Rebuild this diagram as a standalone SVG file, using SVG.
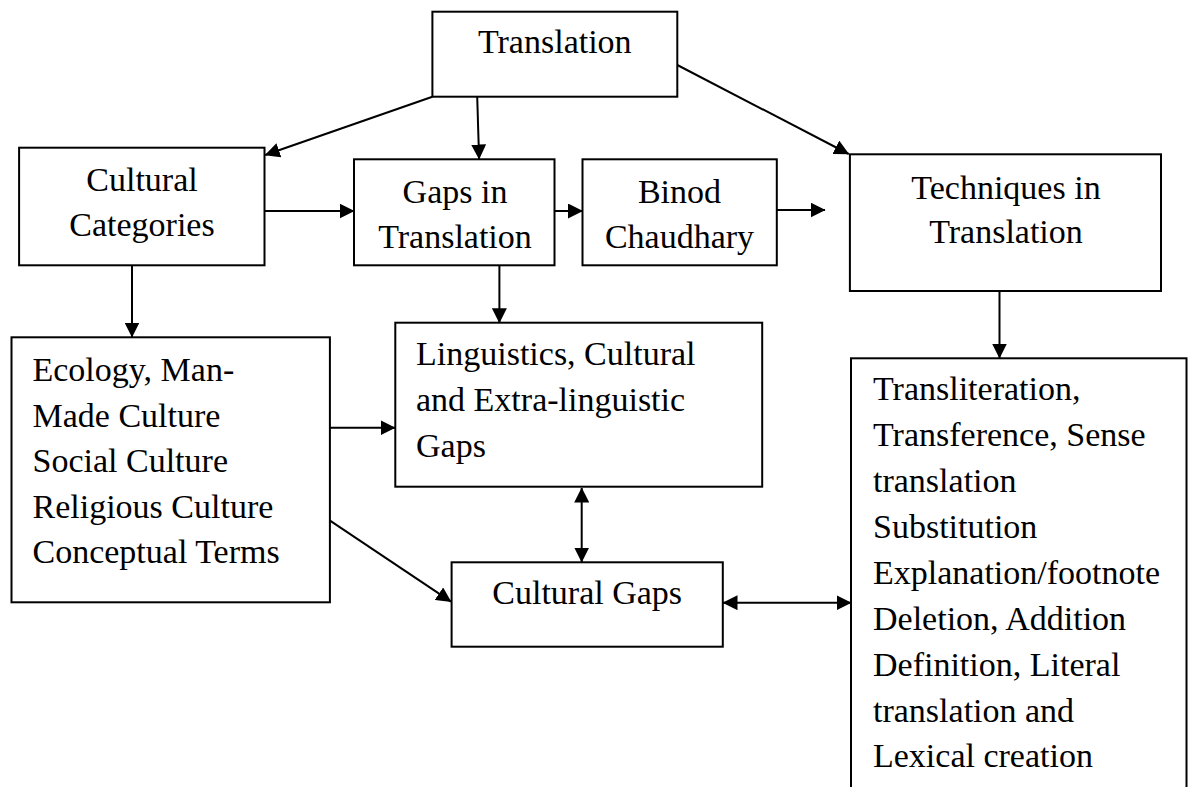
<svg xmlns="http://www.w3.org/2000/svg" width="1194" height="787" viewBox="0 0 1194 787">
<style>
  .box { fill: #ffffff; stroke: #000000; stroke-width: 2; }
  .t { font-family: "Liberation Serif", "Times New Roman", serif; font-size: 34px; fill: #000000; }
  .c { text-anchor: middle; }
  .line { fill: none; stroke: #000000; stroke-width: 2; }
</style>
<defs>
  <marker id="ah" markerUnits="userSpaceOnUse" markerWidth="16" markerHeight="15" refX="14.5" refY="7.5" orient="auto-start-reverse">
    <path d="M0,0 L15,7.5 L0,15 z" fill="#000000"/>
  </marker>
</defs>
<rect x="0" y="0" width="1194" height="787" fill="#ffffff"/>

<g id="connectors">
  <line class="line" x1="432.4" y1="96.7" x2="265.2" y2="155" marker-end="url(#ah)"/>
  <line class="line" x1="477.2" y1="96.7" x2="479.1" y2="159" marker-end="url(#ah)"/>
  <line class="line" x1="677.3" y1="65" x2="848.7" y2="154" marker-end="url(#ah)"/>
  <line class="line" x1="264.5" y1="211" x2="354" y2="211" marker-end="url(#ah)"/>
  <line class="line" x1="554.5" y1="211" x2="582.5" y2="211" marker-end="url(#ah)"/>
  <line class="line" x1="776.8" y1="210" x2="825" y2="210" marker-end="url(#ah)"/>
  <line class="line" x1="132" y1="265.3" x2="132" y2="337" marker-end="url(#ah)"/>
  <line class="line" x1="499.4" y1="265.3" x2="499.4" y2="322.7" marker-end="url(#ah)"/>
  <line class="line" x1="999.5" y1="291" x2="999.5" y2="358" marker-end="url(#ah)"/>
  <line class="line" x1="330" y1="427.7" x2="395" y2="427.7" marker-end="url(#ah)"/>
  <line class="line" x1="330" y1="520.7" x2="451" y2="601.7" marker-end="url(#ah)"/>
  <line class="line" x1="581.7" y1="488" x2="581.7" y2="562" marker-start="url(#ah)" marker-end="url(#ah)"/>
  <line class="line" x1="723" y1="602.7" x2="851" y2="602.7" marker-start="url(#ah)" marker-end="url(#ah)"/>
</g>

<g id="translation">
  <rect class="box" x="432.4" y="11.7" width="244.9" height="85"/>
  <text class="t c" x="554.8" y="53.3">Translation</text>
</g>

<g id="cultural-categories">
  <rect class="box" x="19.1" y="147.7" width="245.4" height="117.6"/>
  <text class="t c" x="142" y="191">Cultural</text>
  <text class="t c" x="142" y="235.5">Categories</text>
</g>

<g id="gaps-in-translation">
  <rect class="box" x="354" y="159.3" width="200.5" height="106"/>
  <text class="t c" x="455" y="203">Gaps in</text>
  <text class="t c" x="455" y="247.5">Translation</text>
</g>

<g id="binod-chaudhary">
  <rect class="box" x="582.5" y="159.3" width="194.3" height="106"/>
  <text class="t c" x="679.5" y="203">Binod</text>
  <text class="t c" x="679.5" y="247.5">Chaudhary</text>
</g>

<g id="techniques">
  <rect class="box" x="849.9" y="154.3" width="311.1" height="136.7"/>
  <text class="t c" x="1006" y="198.5">Techniques in</text>
  <text class="t c" x="1006" y="243">Translation</text>
</g>

<g id="cultural-list">
  <rect class="box" x="11.5" y="337.3" width="318.4" height="265"/>
  <text class="t" x="32.5" y="381">Ecology, Man-</text>
  <text class="t" x="32.5" y="426.5">Made Culture</text>
  <text class="t" x="32.5" y="472">Social Culture</text>
  <text class="t" x="32.5" y="517.5">Religious Culture</text>
  <text class="t" x="32.5" y="563">Conceptual Terms</text>
</g>

<g id="linguistic-gaps">
  <rect class="box" x="395.3" y="322.7" width="366.9" height="164"/>
  <text class="t" x="416" y="365">Linguistics, Cultural</text>
  <text class="t" x="416" y="411">and Extra-linguistic</text>
  <text class="t" x="416" y="457">Gaps</text>
</g>

<g id="cultural-gaps">
  <rect class="box" x="451.6" y="562.3" width="271.2" height="84.4"/>
  <text class="t c" x="587.2" y="604">Cultural Gaps</text>
</g>

<g id="techniques-list">
  <rect class="box" x="851" y="358.3" width="335.5" height="450"/>
  <text class="t" x="873" y="400">Transliteration,</text>
  <text class="t" x="873" y="446">Transference, Sense</text>
  <text class="t" x="873" y="492">translation</text>
  <text class="t" x="873" y="538">Substitution</text>
  <text class="t" x="873" y="584">Explanation/footnote</text>
  <text class="t" x="873" y="630">Deletion, Addition</text>
  <text class="t" x="873" y="676">Definition, Literal</text>
  <text class="t" x="873" y="722">translation and</text>
  <text class="t" x="873" y="766.5">Lexical creation</text>
</g>
</svg>
